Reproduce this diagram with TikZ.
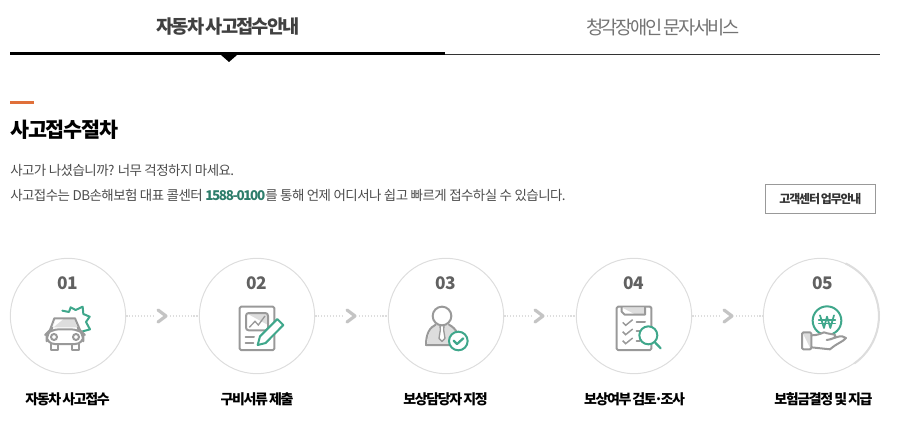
\documentclass[tikz,border=0pt]{standalone}
\usepackage{fontspec}
\setmainfont{Noto Sans CJK KR}
\newfontfamily\krr[LetterSpace=-4]{Noto Sans CJK KR}
\newfontfamily\krt[LetterSpace=-13,WordSpace=0.7]{Noto Sans CJK KR}
\newfontfamily\krm[LetterSpace=-10,WordSpace=0.6]{Noto Sans CJK KR}
\newfontfamily\krh[LetterSpace=-6]{Noto Sans CJK KR}
\newfontfamily\krn[LetterSpace=-6]{Noto Sans CJK KR}
\definecolor{teal1}{HTML}{3FA78B}
\definecolor{teal2}{HTML}{2E7D6B}
\definecolor{gry}{HTML}{999999}
\definecolor{lgry}{HTML}{DDDDDD}
\definecolor{chev}{HTML}{C4C4C4}
\definecolor{orng}{HTML}{E0703A}
\tikzset{
 stepc/.style={circle,draw=lgry,line width=.75pt,minimum size=86.5pt,inner sep=0pt},
 num/.style={font=\fontsize{13}{13}\selectfont\krn\bfseries,text=black!62},
 capt/.style={font=\fontsize{10.5}{11}\selectfont\krm\bfseries,text=black},
 ic/.style={draw=gry,line width=1.5pt,line join=round,line cap=round},
 icg/.style={draw=teal1,line width=1.5pt,line join=round,line cap=round},
 dots/.style={draw=lgry,line width=.9pt,dash pattern=on 1pt off 1.2pt},
 chevr/.style={draw=chev,line width=2.4pt,line join=round,line cap=round},
 txt/.style={anchor=west,inner sep=0pt,font=\fontsize{10.1}{10}\selectfont\krr,text=black!70},
}
\begin{document}
\begin{tikzpicture}[x=.75pt,y=-.75pt]
\useasboundingbox (0,0) rectangle (908,428);
% tabs
\node[font=\fontsize{14}{14}\selectfont\krm\bfseries,text=black!75] (t1) at (228,27) {자동차 사고접수안내};
\node[font=\fontsize{14}{14}\selectfont\krt,text=black!55] (t2) at (663,27) {청각장애인 문자서비스};
\coordinate (r0) at (10,55); \coordinate (r1) at (445,54); \coordinate (r2) at (880,55);
\draw[black!80,line width=.75pt] (r1|-r0) -- (r2);
\draw[black,line width=2.25pt] (10,54) -- (r1);
\fill[black] (221,55) -- (237,55) -- (229,62) -- cycle;
% heading
\fill[orng] (10,101) rectangle (34,104);
\node[anchor=west,inner sep=0pt,font=\fontsize{15.5}{16}\selectfont\krh\bfseries,text=black] (h) at (10,130) {사고접수절차};
\node[txt] (l1) at (10,170) {사고가 나셨습니까? 너무 걱정하지 마세요.};
\node[txt] (l2) at (10,195) {사고접수는 DB손해보험 대표 콜센터 {\krm\bfseries\color{teal2}1588-0100}를 통해 언제 어디서나 쉽고 빠르게 접수하실 수 있습니다.};
\node[draw=gry,line width=.75pt,minimum width=82.5pt,minimum height=22pt,inner sep=0pt,font=\fontsize{9}{9}\selectfont\krm\bfseries,text=black!80] (btn) at (820.5,199) {고객센터 업무안내};
% circles
\node[stepc] (c1) at (68,316) {};
\node[stepc] (c2) at (257,316) {};
\node[stepc] (c3) at (446,316) {};
\node[stepc] (c4) at (634,316) {};
\node[stepc] (c5) at (821,316) {};
\draw[lgry,line width=1.5pt] (821,316) ++(55:58) arc[start angle=55,end angle=-65,radius=58] ;
\node[num] (n1) at (68,283) {01};
\node[num] (n2) at (257,283) {02};
\node[num] (n3) at (446,283) {03};
\node[num] (n4) at (634,283) {04};
\node[num] (n5) at (823,283) {05};
\node[capt] (k1) at (67.5,399) {자동차 사고접수};
\node[capt] (k2) at (257,399) {구비서류 제출};
\node[capt] (k3) at (445.5,399) {보상담당자 지정};
\node[capt] (k4) at (634.5,399) {보상여부 검토\kern-.17em·\kern-.17em조사};
\node[capt] (k5) at (823.5,399) {보험금결정 및 지급};
% connectors
\foreach \a/\b/\x in {c1/c2/162,c2/c3/351,c3/c4/539,c4/c5/728}{
 \coordinate (m) at (\x,316);
 \draw[dots] (\a.east) -- ([xshift=-6pt]m);
 \draw[dots] ([xshift=6pt]m) -- (\b.west);
 \draw[chevr] (\x-4,310) -- (\x+4,316) -- (\x-4,322);
}
% car
\begin{scope}[shift={(0,250)},x=.25pt,y=-.25pt]
\fill[lgry] (160,232)--(167,207)--(222,207)--(232,232)--cycle;
\fill[white] (160,232)--(190,207)--(167,207)--cycle;
\draw[icg] (187,182)--(207,186)--(212,172)--(227,180)--(248,170)--(250,192)--(269,200)--(258,216)--(270,238)--(248,244);
\draw[ic] (150,240)--(163,205)--(225,205)--(240,240);
\draw[ic,rounded corners=6pt,fill=white] (140,282) -- (140,250) -- (152,238) -- (238,238) -- (250,250) -- (250,282) -- cycle;
\draw[ic] (152,282)--(152,300)--(175,300)--(175,282);
\draw[ic] (215,282)--(215,300)--(238,300)--(238,282);
\draw[ic] (162,261) circle[radius=9];
\draw[ic] (228,261) circle[radius=9];
\end{scope}
% document and pencil
\begin{scope}[shift={(0,250)},x=.25pt,y=-.25pt]
\draw[ic,rounded corners=1pt] (719,170) rectangle (823,300);
\fill[lgry] (738,189)--(804,189)--(804,225)--cycle;
\draw[ic,rounded corners=2pt] (738,189) rectangle (804,241);
\draw[draw=gry,line width=1pt] (748,232)--(765,214)--(775,225)--(795,198);
\draw[ic] (737,260)--(762,260);
\draw[ic] (737,278)--(760,278);
\draw[icg,fill=white] (773,285)--(780,259)--(832,207)--(850,225)--(797,279)--cycle;
\end{scope}
% person
\begin{scope}[shift={(320,250)},x=.25pt,y=-.25pt]
\fill[lgry] (322,285) .. controls (322,245) and (340,228) .. (350,225) -- (385,225) .. controls (400,232) and (410,245) .. (412,270) -- (395,285) -- cycle;
\draw[ic] (395,285) -- (318,285) .. controls (318,250) and (330,232) .. (347,224);
\draw[ic] (387,224) .. controls (398,230) and (407,238) .. (412,250);
\draw[ic,fill=white] (366,198) circle[radius=28];
\draw[draw=gry,line width=1pt,line join=round,fill=white] (360,227)--(372,227)--(371,240)--(375,265)--(366,274)--(357,265)--(361,240)--cycle;
\draw[icg,fill=white] (415,273) circle[radius=28];
\draw[icg,line width=1.7pt] (401,272)--(411,282)--(430,265);
\end{scope}
% checklist
\begin{scope}[shift={(620,250)},x=.25pt,y=-.25pt]
\draw[ic,rounded corners=1pt] (-10,170) rectangle (94,300);
\fill[lgry] (5,172)--(75,172)--(75,193)--(45,193)--cycle;
\draw[ic] (5,172)--(5,185)--(14,194)--(75,194)--(75,172);
\foreach \y in {217,245,272}{\draw[draw=gry,line width=1.1pt] (8,\y)--(17,\y+9)--(38,\y-8);}
\draw[ic] (50,217)--(75,217);
\draw[ic] (50,243)--(60,243);
\draw[ic] (50,272)--(60,272);
\draw[icg,fill=white] (85,256) circle[radius=27];
\draw[icg,line width=1.7pt] (104,276)--(122,295);
\end{scope}
% won hand
\begin{scope}[shift={(620,250)},x=.25pt,y=-.25pt]
\draw[icg,fill=white] (621,212) circle[radius=43];
\draw[icg,line width=1.3pt] (600,196)--(612,234)--(621,200)--(631,234)--(642,196);
\draw[icg,line width=1.1pt] (596,210)--(646,210);
\draw[icg,line width=1.1pt] (596,221)--(646,221);
\draw[ic,fill=white] (574,256) .. controls (590,256) and (600,252) .. (612,247) .. controls (625,252) and (640,252) .. (645,255) .. controls (650,260) and (640,268) .. (620,270) .. controls (640,268) and (665,250) .. (678,264) .. controls (670,275) and (650,280) .. (630,298) -- (574,292);
\fill[lgry] (547,247)--(572,247)--(572,297)--cycle;
\draw[ic,rounded corners=1pt] (546,247) rectangle (574,298);
\end{scope}
\end{tikzpicture}
\end{document}
